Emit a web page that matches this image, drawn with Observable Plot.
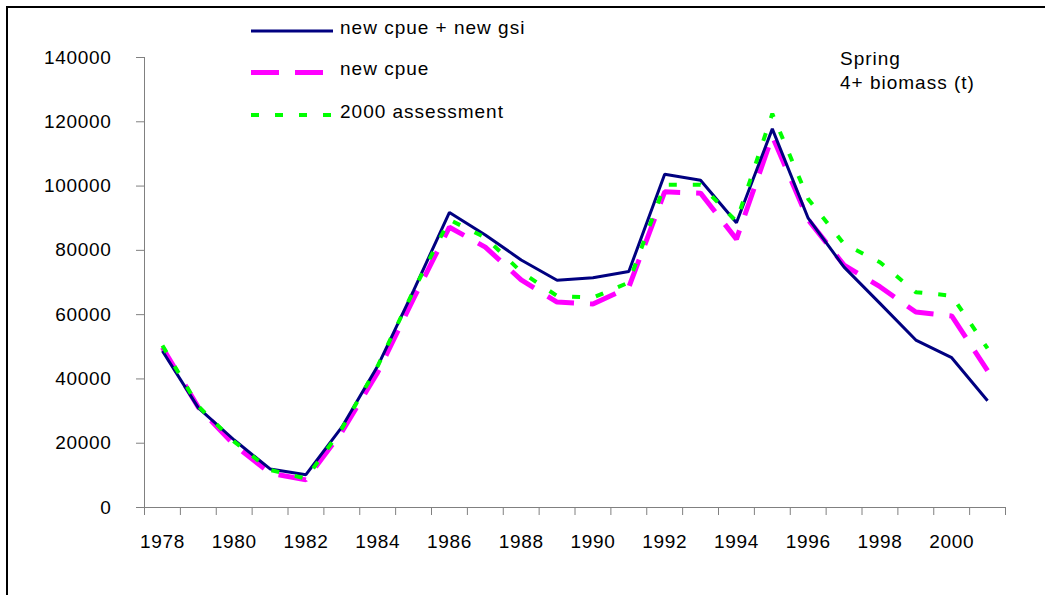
<!DOCTYPE html>
<html><head><meta charset="utf-8">
<script src="https://cdn.jsdelivr.net/npm/d3@7"></script>
<script src="https://cdn.jsdelivr.net/npm/@observablehq/plot@0.6"></script>
<style>
html,body{margin:0;padding:0;background:#fff;}
#wrap{position:relative;width:1045px;height:595px;overflow:hidden;font-family:"Liberation Sans",Arial,sans-serif;}
#frame{position:absolute;left:6px;top:6px;right:-10px;bottom:-10px;border-top:2px solid #000;border-left:2px solid #000;pointer-events:none;}
#chart{position:absolute;left:0;top:0;}
#overlay{position:absolute;left:0;top:0;pointer-events:none;}
</style></head><body>
<div id="wrap"><div id="chart"></div><svg id="overlay" width="1045" height="595"></svg><div id="frame"></div></div>
<script>
const years = [1978,1979,1980,1981,1982,1983,1984,1985,1986,1987,1988,1989,1990,1991,1992,1993,1994,1995,1996,1997,1998,1999,2000,2001];
const seriesNames = ["new cpue + new gsi", "new cpue", "2000 assessment"];
const newCpueGsi = [48700,31000,21000,12000,10200,25000,44000,67500,91800,84800,77000,70700,71500,73400,103700,101800,88600,117800,90000,74800,63500,52100,46600,33200];
const newCpue = [49800,31200,19500,10700,8600,23500,42000,65000,87200,81000,70800,63900,63300,68500,98200,97800,83500,115500,89500,75400,68700,60800,59600,42600];
const assessment2000 = [50400,31500,20500,11700,9000,24500,44000,67500,89500,84000,73300,65800,65300,70000,100400,100400,89000,122500,96000,82000,76300,67000,65900,49500];
const yTicks = [0,20000,40000,60000,80000,100000,120000,140000];
const xLabelYears = [1978,1980,1982,1984,1986,1988,1990,1992,1994,1996,1998,2000];
const noteLines = ["Spring", "4+ biomass (t)"];
const seriesColors = ["#000080", "#ff00ff", "#00ff00"];

const rows = [];
const allSeries = [newCpueGsi, newCpue, assessment2000];
allSeries.forEach((vals, s) => vals.forEach((v, i) => rows.push({year: years[i], value: v, series: seriesNames[s]})));
const bySeries = name => rows.filter(r => r.series === name);

const xDomain = [years[0] - 0.5, years[years.length - 1] + 0.5];
const boundaries = d3.range(xDomain[0], xDomain[1] + 0.01, 1);

const chart = Plot.plot({
  width: 1045, height: 595,
  marginLeft: 144, marginRight: 40, marginTop: 57, marginBottom: 88,
  style: {fontFamily: "'Liberation Sans', Arial, sans-serif", fontSize: "19px", letterSpacing: "0.7px", background: "transparent", color: "#000"},
  x: {domain: xDomain, label: null},
  y: {domain: [0, 140000], label: null},
  marks: [
    Plot.axisY(yTicks, {tickSize: 8, tickPadding: 25, stroke: "#808080", fill: "#000", tickFormat: d => String(d), label: null}),
    Plot.axisX(boundaries, {tickSize: 8, stroke: "#808080", tickFormat: () => "", label: null}),
    Plot.axisX(xLabelYears, {tickSize: 0, tickPadding: 27, fill: "#000", tickFormat: d => String(d), label: null}),
    Plot.ruleY([0], {stroke: "#808080"}),
    Plot.ruleX([xDomain[0]], {stroke: "#808080"}),
    Plot.line(bySeries(seriesNames[1]), {x: "year", y: "value", stroke: seriesColors[1], strokeWidth: 5, strokeDasharray: "28,16", strokeLinecap: "butt", strokeLinejoin: "miter"}),
    Plot.line(bySeries(seriesNames[0]), {x: "year", y: "value", stroke: seriesColors[0], strokeWidth: 3, strokeLinecap: "butt", strokeLinejoin: "miter"}),
    Plot.line(bySeries(seriesNames[2]), {x: "year", y: "value", stroke: seriesColors[2], strokeWidth: 4, strokeDasharray: "8,16", strokeLinecap: "butt", strokeLinejoin: "miter"})
  ]
});
document.getElementById("chart").appendChild(chart);

// Legend and annotation overlay
const ov = d3.select("#overlay").style("font-family", "'Liberation Sans', Arial, sans-serif").style("font-size", "19px").style("letter-spacing", "1px");
const legendRows = [
  {y: 31, dash: null, w: 3},
  {y: 72.5, dash: "28,16", w: 5},
  {y: 115, dash: "8,16", w: 4}
];
legendRows.forEach((r, i) => {
  ov.append("line").attr("x1", 251).attr("x2", 333).attr("y1", r.y).attr("y2", r.y)
    .attr("stroke", seriesColors[i]).attr("stroke-width", r.w)
    .attr("stroke-dasharray", r.dash).attr("stroke-linecap", "butt");
  ov.append("text").attr("x", 340).attr("y", r.y + 2.5).attr("fill", "#000").text(seriesNames[i]);
});
noteLines.forEach((t, i) => {
  ov.append("text").attr("x", 840).attr("y", 65 + i * 24).attr("fill", "#000").text(t);
});
</script>
</body></html>
